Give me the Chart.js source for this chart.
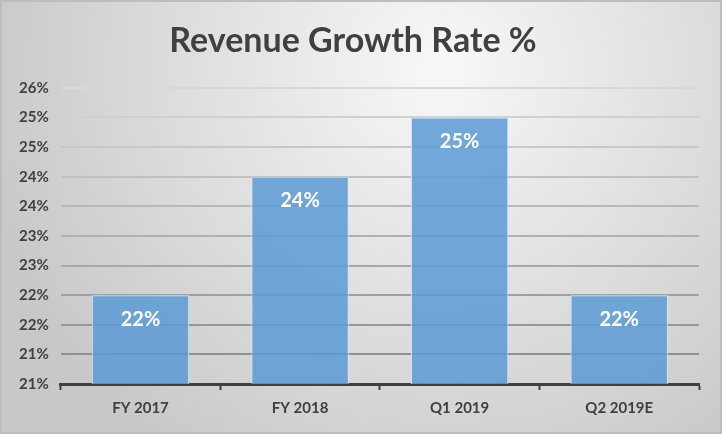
<!DOCTYPE html>
<html>
<head>
<meta charset="utf-8">
<script src="https://cdn.jsdelivr.net/npm/chart.js@4/dist/chart.umd.min.js"></script>
<style>
  html, body { margin: 0; padding: 0; background: #ffffff; }
  #wrap { width: 722px; height: 434px; }
</style>
</head>
<body>
<div id="wrap"><canvas id="growthChart" width="722" height="434"></canvas></div>
<script>
// chart data
const periods = ["FY 2017", "FY 2018", "Q1 2019", "Q2 2019E"];
const growthRates = [22, 24, 25, 22];
const axisMin = 20.5;
const axisMax = 25.5;
const axisStep = 0.5;

const FONT = "Lato, 'Open Sans', sans-serif";
const TEXT_COLOR = "#404040";

// gray radial backdrop with a thin frame, like the spreadsheet chart area
const backdrop = {
    id: "backdrop",
    beforeDraw(chart) {
        const ctx = chart.ctx;
        const w = chart.width, h = chart.height;
        ctx.save();
        const g = ctx.createRadialGradient(440, 70, 0, 440, 70, 470);
        g.addColorStop(0, "#f8f8f8");
        g.addColorStop(1, "#c8c8c8");
        ctx.fillStyle = g;
        ctx.fillRect(0, 0, w, h);
        ctx.strokeStyle = "#bdbdbd";
        ctx.lineWidth = 2;
        ctx.strokeRect(1, 1, w - 2, h - 2);
        ctx.restore();
    }
};

// value labels inside the top of each bar
const barLabels = {
    id: "barLabels",
    afterDatasetsDraw(chart) {
        const ctx = chart.ctx;
        const meta = chart.getDatasetMeta(0);
        ctx.save();
        ctx.font = "bold 20px " + FONT;
        ctx.fillStyle = "#ffffff";
        ctx.textAlign = "center";
        ctx.textBaseline = "middle";
        meta.data.forEach((bar, i) => {
            ctx.fillText(Math.round(growthRates[i]) + "%", bar.x, bar.y + 24);
        });
        ctx.restore();
    }
};

// gridlines get darker toward the bottom
function gridShade(ctx) {
    const n = 10;
    const t = Math.min(ctx.index, n) / n; // 0 bottom, 1 top
    const c = Math.round(136 + (216 - 136) * t);
    return `rgb(${c},${c},${c})`;
}

new Chart(document.getElementById("growthChart"), {
    type: "bar",
    data: {
        labels: periods,
        datasets: [{
            data: growthRates,
            backgroundColor: "rgba(91,155,213,0.85)",
            borderColor: "#d4e5f5",
            borderWidth: 1,
            barPercentage: 0.61,
            categoryPercentage: 1
        }]
    },
    options: {
        responsive: false,
        animation: false,
        devicePixelRatio: 1,
        layout: { padding: { top: 7, left: 7, right: 23, bottom: 8 } },
        plugins: {
            legend: { display: false },
            tooltip: { enabled: false },
            title: {
                display: true,
                text: "Revenue Growth Rate %",
                color: TEXT_COLOR,
                font: { family: FONT, size: 34, weight: "bold" },
                padding: { top: 14, bottom: 26 }
            }
        },
        scales: {
            x: {
                offset: true,
                grid: {
                    offset: true,
                    drawOnChartArea: false,
                    drawTicks: true,
                    tickLength: 6,
                    tickWidth: 2,
                    tickColor: TEXT_COLOR
                },
                border: { display: true, color: TEXT_COLOR, width: 3 },
                ticks: {
                    color: TEXT_COLOR,
                    padding: 9,
                    font: { family: FONT, size: 15, weight: "bold" }
                }
            },
            y: {
                min: axisMin,
                max: axisMax,
                grid: {
                    color: gridShade,
                    lineWidth: 2,
                    drawTicks: false
                },
                border: { display: false },
                ticks: {
                    stepSize: axisStep,
                    color: TEXT_COLOR,
                    padding: 12,
                    font: { family: FONT, size: 15, weight: "bold" },
                    callback: v => Math.round(v) + "%"
                }
            }
        }
    },
    plugins: [backdrop, barLabels]
});
</script>
</body>
</html>
